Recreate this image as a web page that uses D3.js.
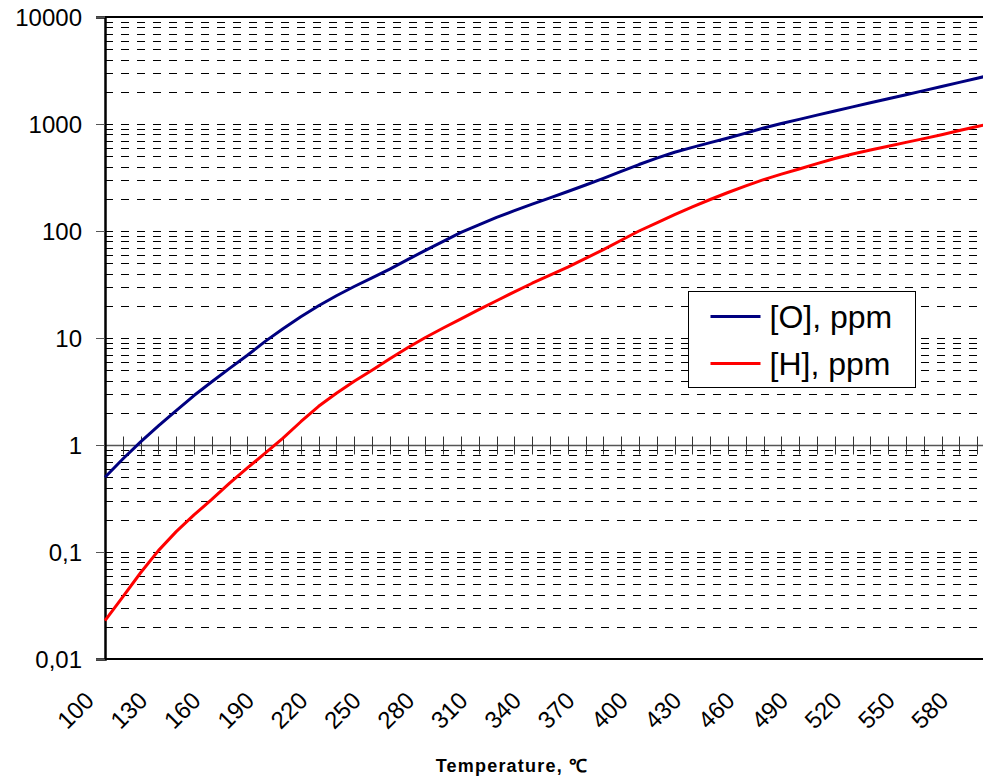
<!DOCTYPE html>
<html>
<head>
<meta charset="utf-8">
<script src="https://cdn.jsdelivr.net/npm/d3@7"></script>
<style>
  body { margin: 0; background: #fff; }
  svg { display: block; font-family: "Liberation Sans", Arial, sans-serif; }
</style>
</head>
<body>
<script>
    //create data
    var temps = [100, 110, 120, 130, 140, 150, 160, 170, 180, 190,
        200, 210, 220, 230, 240, 250, 260, 270, 280, 290,
        300, 310, 320, 330, 340, 350, 360, 370, 380, 390,
        400, 410, 420, 430, 440, 450, 460, 470, 480, 490,
        500, 510, 520, 530, 540, 550, 560, 570, 580, 590, 600
    ];

    var oxygen = [0.50, 0.74, 1.07, 1.51, 2.1, 2.9, 3.9, 5.2, 6.9, 9.3,
        12.2, 15.8, 20.0, 24.8, 30.3, 36.5, 44, 54, 66, 80,
        97, 114, 134, 155, 178, 204, 234, 269, 310, 360,
        418, 480, 545, 605, 670, 740, 822, 918, 1010, 1105,
        1210, 1324, 1445, 1577, 1721, 1878, 2050, 2240, 2450, 2680, 2920
    ];

    var hydrogen = [0.0228, 0.038, 0.064, 0.103, 0.155, 0.222, 0.31, 0.44, 0.61, 0.84,
        1.16, 1.65, 2.3, 3.05, 3.95, 5.0, 6.4, 8.1, 10.1, 12.4,
        15.1, 18.4, 22.3, 27.0, 32.5, 38.7, 46, 55.5, 67, 82,
        100, 119, 142, 168, 197, 229, 264, 302, 340, 380,
        426, 476, 525, 571, 620, 673, 730, 795, 871, 948, 1023
    ];

    var xLabels = [100, 130, 160, 190, 220, 250, 280, 310, 340, 370,
        400, 430, 460, 490, 520, 550, 580
    ];
    var yLabels = [0.01, 0.1, 1, 10, 100, 1000, 10000];
    var seriesNames = ["[O], ppm", "[H], ppm"];

    //create the width and height of the chart
    var width = 983;
    var height = 778;

    //plot area (right side runs past the window)
    var plot = {
        left: 105,
        right: 995,
        top: 17,
        bottom: 659
    }

    //create scales
    var xScale = d3.scaleLinear()
        .domain([100, 600])
        .range([plot.left, plot.right]);

    var yScale = d3.scaleLog()
        .domain([0.01, 10000])
        .range([plot.bottom, plot.top]);

    //minor gridline values 2..9 x 10^k
    var gridValues = [];
    yLabels.forEach(function (d) {
        if (d < 10000) {
            for (var k = 1; k < 10; k++) gridValues.push(d * k);
        }
    });

    //create a svg element
    var svg = d3.select("body")
        .append("svg")
        .attr("width", width)
        .attr("height", height);

    //dashed gridlines
    svg.append("g")
        .attr("class", "grid")
        .selectAll("line")
        .data(gridValues.filter(function (d) { return d > 0.01; }))
        .enter()
        .append("line")
        .attr("x1", plot.left)
        .attr("x2", plot.right)
        .attr("y1", function (d) { return Math.round(yScale(d)) + 0.5; })
        .attr("y2", function (d) { return Math.round(yScale(d)) + 0.5; })
        .attr("stroke", "#000")
        .attr("stroke-width", 1)
        .attr("stroke-dasharray", "8,8");

    //top and bottom borders of the plot area
    svg.append("line")
        .attr("x1", plot.left).attr("x2", plot.right)
        .attr("y1", plot.top).attr("y2", plot.top)
        .attr("stroke", "#000").attr("stroke-width", 2);
    svg.append("line")
        .attr("x1", plot.left).attr("x2", plot.right)
        .attr("y1", plot.bottom).attr("y2", plot.bottom)
        .attr("stroke", "#000").attr("stroke-width", 2);

    //horizontal axis crossing at 1, with ticks on both sides
    var crossY = Math.round(yScale(1)) + 0.5;
    svg.append("line")
        .attr("x1", plot.left).attr("x2", plot.right)
        .attr("y1", crossY).attr("y2", crossY)
        .attr("stroke", "#555").attr("stroke-width", 1.5);
    svg.append("g")
        .selectAll("line")
        .data(temps)
        .enter()
        .append("line")
        .attr("x1", function (d) { return Math.round(xScale(d)) + 0.5; })
        .attr("x2", function (d) { return Math.round(xScale(d)) + 0.5; })
        .attr("y1", crossY - 9)
        .attr("y2", crossY + 9)
        .attr("stroke", "#333")
        .attr("stroke-width", 1);

    //x labels at the bottom, rotated
    var xAxis = d3.axisBottom(xScale)
        .tickValues(xLabels)
        .tickSize(0)
        .tickFormat(function (d) { return d; });
    var xg = svg.append("g")
        .attr("transform", "translate(0," + plot.bottom + ")")
        .call(xAxis);
    xg.select(".domain").remove();
    xg.selectAll("text")
        .attr("x", 0)
        .attr("y", 0)
        .attr("dy", 0)
        .attr("transform", "translate(-10,43) rotate(-45)")
        .style("text-anchor", "end")
        .attr("fill", "#000")
        .style("font-size", "24px")
        .style("font-family", "'Liberation Sans', Arial, sans-serif");

    //y axis
    var yAxis = d3.axisLeft(yScale)
        .tickValues(yLabels)
        .tickSize(9)
        .tickPadding(14)
        .tickFormat(function (d) { return String(d).replace(".", ","); });
    var yg = svg.append("g")
        .attr("transform", "translate(" + plot.left + ",0)")
        .call(yAxis);
    yg.select(".domain")
        .attr("stroke", "#000")
        .attr("stroke-width", 2.5);
    yg.selectAll(".tick line").attr("stroke", "#555");
    yg.selectAll("text")
        .attr("fill", "#000")
        .attr("dy", "0.36em")
        .style("font-size", "24px")
        .style("font-family", "'Liberation Sans', Arial, sans-serif");

    //create the lines
    var colors = ["#000080", "#ff0000"];
    var series = [oxygen, hydrogen];
    var line = d3.line()
        .x(function (d, i) { return xScale(temps[i]); })
        .y(function (d) { return yScale(d); });

    svg.append("g")
        .selectAll("path")
        .data(series)
        .enter()
        .append("path")
        .attr("d", line)
        .attr("fill", "none")
        .attr("stroke", function (d, i) { return colors[i]; })
        .attr("stroke-width", 3)
        .attr("stroke-linejoin", "round");

    //legend
    var legend = svg.append("g")
        .attr("transform", "translate(688.5,291.5)");
    legend.append("rect")
        .attr("width", 227)
        .attr("height", 96)
        .attr("fill", "#fff")
        .attr("stroke", "#000")
        .attr("stroke-width", 1);
    var rows = legend.selectAll("g.row")
        .data(seriesNames)
        .enter()
        .append("g")
        .attr("class", "row")
        .attr("transform", function (d, i) { return "translate(0," + (25 + i * 47) + ")"; });
    rows.append("line")
        .attr("x1", 22).attr("x2", 72)
        .attr("stroke", function (d, i) { return colors[i]; })
        .attr("stroke-width", 3);
    rows.append("text")
        .attr("x", 81)
        .attr("dy", "0.36em")
        .style("font-size", "32px")
        .text(function (d) { return d; });

    //axis title
    svg.append("text")
        .attr("x", 512)
        .attr("y", 772)
        .attr("text-anchor", "middle")
        .style("font-size", "18px")
        .style("font-weight", "bold")
        .style("letter-spacing", "1.2px")
        .text("Temperature, \u2103");
</script>
</body>
</html>
